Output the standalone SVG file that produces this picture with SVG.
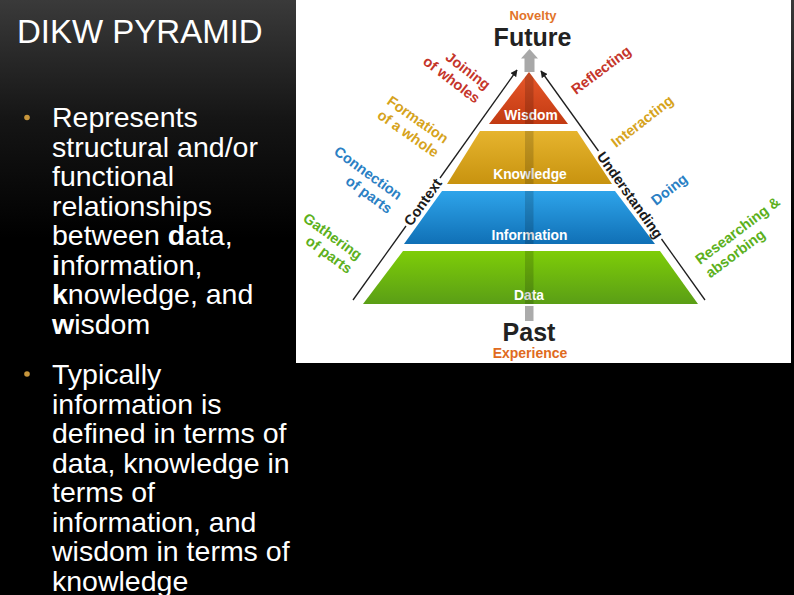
<svg xmlns="http://www.w3.org/2000/svg" width="794" height="595" viewBox="0 0 794 595">
<style>
.sans{font-family:"Liberation Sans",Arial,sans-serif}
.body{font-family:"Liberation Sans",Arial,sans-serif;font-size:28.5px;fill:#ffffff}
.side{font-family:"Liberation Sans",Arial,sans-serif;font-size:14.5px;font-weight:bold}
.tier{font-family:"Liberation Sans",Arial,sans-serif;font-size:13.8px;font-weight:bold;fill:#ffffff;text-anchor:middle}
.axis{font-family:"Liberation Sans",Arial,sans-serif;font-size:14.5px;font-weight:bold;fill:#1a1a1a;text-anchor:middle}
.conn{stroke:#1e1e1e;stroke-width:1.3;fill:none}
.red{fill:#c5352a}.gold{fill:#d6a31c}.blue{fill:#2a80c4}.green{fill:#5cb01c}
</style>
<defs>
<linearGradient id="bg" x1="0" y1="0" x2="0" y2="1">
<stop offset="0" stop-color="#3a3a3a"/>
<stop offset="0.2" stop-color="#151515"/>
<stop offset="0.4" stop-color="#000000"/>
<stop offset="1" stop-color="#000000"/>
</linearGradient>
<linearGradient id="gW" x1="0" y1="0" x2="0" y2="1"><stop offset="0" stop-color="#e8582a"/><stop offset="1" stop-color="#c23a12"/></linearGradient>
<linearGradient id="gK" x1="0" y1="0" x2="0" y2="1"><stop offset="0" stop-color="#e6b42e"/><stop offset="1" stop-color="#c8930f"/></linearGradient>
<linearGradient id="gI" x1="0" y1="0" x2="0" y2="1"><stop offset="0" stop-color="#2ea4ea"/><stop offset="1" stop-color="#1070b6"/></linearGradient>
<linearGradient id="gD" x1="0" y1="0" x2="0" y2="1"><stop offset="0" stop-color="#7ecd08"/><stop offset="1" stop-color="#5a9e16"/></linearGradient>
<clipPath id="pyr">
<polygon points="529,72 568,124 489,124"/>
<polygon points="480,131 577,131 612,184 447,184"/>
<polygon points="442,191 615,191 655,244 404,244"/>
<polygon points="403,251 660,251 698,304 363,304"/>
</clipPath>
<marker id="ah" viewBox="0 0 10 10" refX="9" refY="5" markerWidth="7" markerHeight="7" orient="auto" markerUnits="userSpaceOnUse">
<path d="M0,0 L10,5 L0,10 z" fill="#1e1e1e"/>
</marker>
</defs>

<rect x="0" y="0" width="794" height="595" fill="url(#bg)"/>

<g id="title">
<text class="sans" x="17" y="43" font-size="33" fill="#ffffff">DIKW PYRAMID</text>
</g>

<g id="bullets">
<circle cx="27" cy="117.5" r="2.8" fill="#c8963c"/>
<text class="body">
<tspan x="52" y="127">Represents</tspan>
<tspan x="52" y="156.5">structural and/or</tspan>
<tspan x="52" y="186">functional</tspan>
<tspan x="52" y="215.5">relationships</tspan>
<tspan x="52" y="245">between <tspan font-weight="bold">d</tspan>ata,</tspan>
<tspan x="52" y="274.5"><tspan font-weight="bold">i</tspan>nformation,</tspan>
<tspan x="52" y="304"><tspan font-weight="bold">k</tspan>nowledge, and</tspan>
<tspan x="52" y="333.5"><tspan font-weight="bold">w</tspan>isdom</tspan>
</text>
<circle cx="27" cy="374" r="2.8" fill="#c8963c"/>
<text class="body">
<tspan x="52" y="384">Typically</tspan>
<tspan x="52" y="413.5">information is</tspan>
<tspan x="52" y="443">defined in terms of</tspan>
<tspan x="52" y="472.5">data, knowledge in</tspan>
<tspan x="52" y="502">terms of</tspan>
<tspan x="52" y="531.5">information, and</tspan>
<tspan x="52" y="561">wisdom in terms of</tspan>
<tspan x="52" y="590.5">knowledge</tspan>
</text>
</g>

<rect id="panel" x="296" y="0" width="495" height="363" fill="#ffffff"/>

<g id="future">
<text class="sans" x="533" y="20" font-size="13" font-weight="bold" fill="#e2742a" text-anchor="middle">Novelty</text>
<text class="sans" x="532.5" y="45.5" font-size="25" font-weight="bold" fill="#222222" text-anchor="middle">Future</text>
<polygon points="529.5,49 538,58.5 534.5,58.5 534.5,72 524.5,72 524.5,58.5 521,58.5" fill="#a8a8a8"/>
</g>

<g id="wisdom">
<polygon points="529,72 568,124 489,124" fill="url(#gW)"/>
<text class="tier" x="531" y="120">Wisdom</text>
</g>
<g id="knowledge">
<polygon points="480,131 577,131 612,184 447,184" fill="url(#gK)"/>
<text class="tier" x="530" y="178.5">Knowledge</text>
</g>
<g id="information">
<polygon points="442,191 615,191 655,244 404,244" fill="url(#gI)"/>
<text class="tier" x="529.5" y="240">Information</text>
</g>
<g id="data">
<polygon points="403,251 660,251 698,304 363,304" fill="url(#gD)"/>
<text class="tier" x="529" y="299.5">Data</text>
</g>
<rect x="525" y="70" width="8.5" height="236" fill="#000000" opacity="0.16" clip-path="url(#pyr)"/>

<g id="past">
<rect x="525" y="306" width="8.5" height="15" fill="#ababab"/>
<text class="sans" x="529" y="340.5" font-size="25" font-weight="bold" fill="#222222" text-anchor="middle">Past</text>
<text class="sans" x="530" y="357.5" font-size="14" font-weight="bold" fill="#e06a20" text-anchor="middle">Experience</text>
</g>

<g id="connectors">
<line class="conn" x1="353" y1="300" x2="406" y2="226"/>
<line class="conn" x1="440" y1="178" x2="517" y2="70" marker-end="url(#ah)"/>
<line class="conn" x1="705" y1="300" x2="661.5" y2="239"/>
<line class="conn" x1="598.5" y1="151" x2="541" y2="71" marker-end="url(#ah)"/>
</g>

<g id="context">
<text class="axis" transform="translate(427,205) rotate(-54.5)" x="0" y="0">Context</text>
</g>
<g id="understanding">
<text class="axis" transform="translate(626,198) rotate(54.5)" x="0" y="0">Understanding</text>
</g>

<g id="joining">
<text class="side red" text-anchor="end" transform="translate(485.5,90.5) rotate(37.5)"><tspan x="0" y="0">Joining</tspan><tspan x="0" y="17">of wholes</tspan></text>
</g>
<g id="formation">
<text class="side gold" text-anchor="end" transform="translate(444,144) rotate(35)"><tspan x="0" y="0">Formation</tspan><tspan x="0" y="17">of a whole</tspan></text>
</g>
<g id="connection">
<text class="side blue" text-anchor="end" transform="translate(397.5,200.5) rotate(36)"><tspan x="0" y="0">Connection</tspan><tspan x="0" y="17">of parts</tspan></text>
</g>
<g id="gathering">
<text class="side green" text-anchor="end" transform="translate(357.5,260.5) rotate(36)"><tspan x="0" y="0">Gathering</tspan><tspan x="0" y="17">of parts</tspan></text>
</g>

<g id="reflecting">
<text class="side red" transform="translate(576,95) rotate(-37)" x="0" y="0">Reflecting</text>
</g>
<g id="interacting">
<text class="side gold" transform="translate(616,148) rotate(-38)" x="0" y="0">Interacting</text>
</g>
<g id="doing">
<text class="side blue" transform="translate(656,206) rotate(-38)" x="0" y="0">Doing</text>
</g>
<g id="researching">
<text class="side green" transform="translate(700,265) rotate(-37)"><tspan x="0" y="0">Researching &amp;</tspan><tspan x="0" y="17">absorbing</tspan></text>
</g>
</svg>
